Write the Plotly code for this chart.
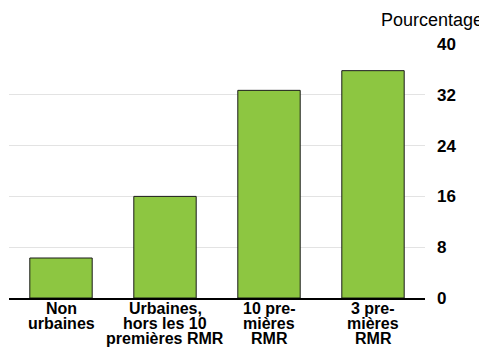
import plotly.graph_objects as go

categories = ["Non<br>urbaines", "Urbaines,<br>hors les 10<br>premières RMR",
              "10 pre-<br>mières<br>RMR", "3 pre-<br>mières<br>RMR"]
values = [6.3, 16.0, 32.7, 35.8]
y_ticks = [0, 8, 16, 24, 32, 40]
y_title = "Pourcentage"

# page body has an 8px margin; figure sized to fill the rest of the window
OFF = 8
W, H = 487 - OFF, 348 - OFF
L, R, T, B = 9 - OFF, 62, 43.5 - OFF, 49.5
ph = H - T - B
pw = W - L - R
plot_bottom_win = 298.5  # window px of y=0

FONT = "Liberation Sans, Arial, sans-serif"

fig = go.Figure()
fig.add_trace(go.Bar(
    x=list(range(len(categories))), y=values,
    width=0.6,
    marker=dict(color="#8DC641", line=dict(color="#1a1a1a", width=1)),
))

annotations = []
for i, cat in enumerate(categories):
    for j, line in enumerate(cat.split("<br>")):
        mid_win = 309.5 + 15 * j
        annotations.append(dict(
            x=i, xref="x", y=-(mid_win - plot_bottom_win) / ph, yref="paper",
            text="<b>" + line + "</b>", showarrow=False, xanchor="center", yanchor="middle",
            font=dict(family=FONT, size=16, color="#000000"),
        ))

annotations.append(dict(
    x=(485 - 9) / pw, xref="paper", y=1 + (43.5 - 19.7) / ph, yref="paper",
    text=y_title, showarrow=False, xanchor="right", yanchor="middle",
    font=dict(family=FONT, size=18, color="#000000"),
))

fig.update_layout(
    width=W, height=H,
    margin=dict(l=L, r=R, t=T, b=B, pad=0),
    paper_bgcolor="white", plot_bgcolor="white",
    showlegend=False,
    annotations=annotations,
    xaxis=dict(
        range=[-0.5, len(categories) - 0.5],
        showticklabels=False, showgrid=False, zeroline=False,
        showline=True, linecolor="#000000", linewidth=1.5, ticks="",
    ),
    yaxis=dict(
        side="right", range=[0, 40], tickvals=y_ticks,
        showgrid=True, gridcolor="#e3e3e3", gridwidth=1,
        zeroline=False, showline=False, ticks="",
        ticklabelstandoff=11,
        tickfont=dict(family=FONT, size=17, color="#000000", weight="bold"),
    ),
)

fig.write_html("out.html")
